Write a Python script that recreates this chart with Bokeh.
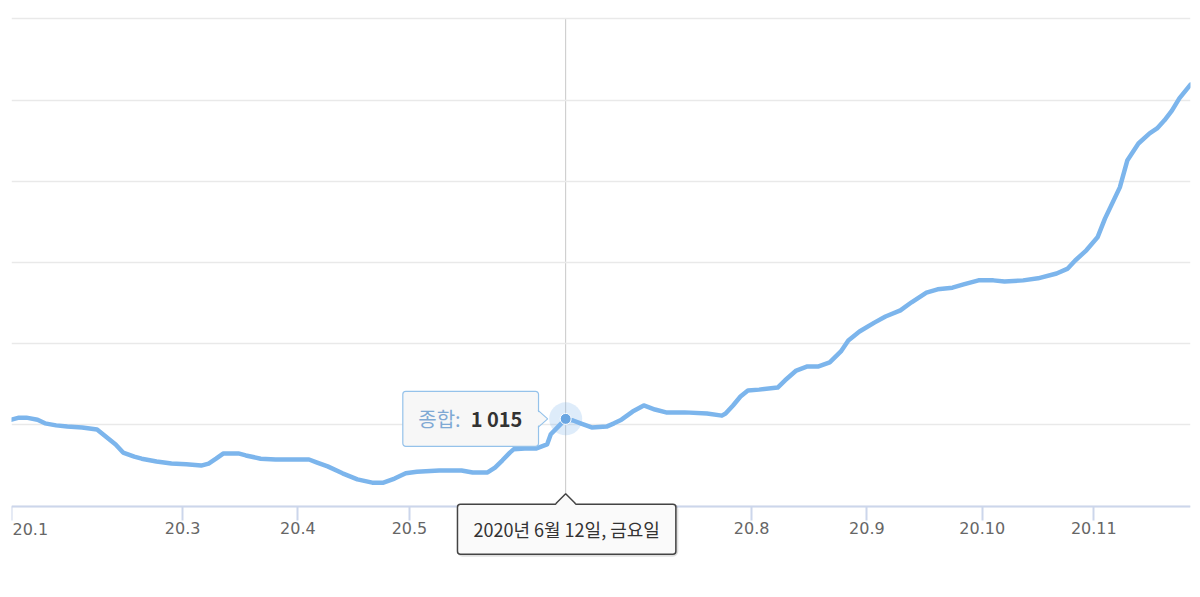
from datetime import datetime
from bokeh.plotting import figure
from bokeh.models import Range1d, FixedTicker, Label
from bokeh.embed import file_html
from bokeh.resources import INLINE

series_name = "종합"
dates = [
    "2020-01-15", "2020-01-17", "2020-01-19", "2020-01-22", "2020-01-24", "2020-01-27", "2020-01-30",
    "2020-02-03", "2020-02-07", "2020-02-09", "2020-02-12", "2020-02-14", "2020-02-17", "2020-02-19",
    "2020-02-23", "2020-02-27", "2020-03-02", "2020-03-06", "2020-03-08", "2020-03-10", "2020-03-12",
    "2020-03-16", "2020-03-18", "2020-03-22", "2020-03-26", "2020-03-30", "2020-04-04", "2020-04-06",
    "2020-04-09", "2020-04-13", "2020-04-17", "2020-04-21", "2020-04-24", "2020-04-27", "2020-04-30",
    "2020-05-03", "2020-05-09", "2020-05-15", "2020-05-18", "2020-05-22", "2020-05-24", "2020-05-26",
    "2020-05-28", "2020-05-29", "2020-06-01", "2020-06-04", "2020-06-07", "2020-06-08", "2020-06-10",
    "2020-06-12", "2020-06-14", "2020-06-16", "2020-06-19", "2020-06-23", "2020-06-25", "2020-06-27",
    "2020-06-30", "2020-07-03", "2020-07-06", "2020-07-09", "2020-07-14", "2020-07-20", "2020-07-24",
    "2020-07-25", "2020-07-27", "2020-07-29", "2020-07-31", "2020-08-03", "2020-08-08", "2020-08-10",
    "2020-08-13", "2020-08-16", "2020-08-19", "2020-08-22", "2020-08-25", "2020-08-27", "2020-08-30",
    "2020-09-03", "2020-09-06", "2020-09-10", "2020-09-13", "2020-09-17", "2020-09-20", "2020-09-24",
    "2020-09-27", "2020-10-01", "2020-10-05", "2020-10-08", "2020-10-13", "2020-10-17", "2020-10-22",
    "2020-10-25", "2020-10-27", "2020-10-30", "2020-11-02", "2020-11-04", "2020-11-08", "2020-11-10",
    "2020-11-13", "2020-11-16", "2020-11-18", "2020-11-20", "2020-11-22", "2020-11-24", "2020-11-27",
]
values = [
    1013, 1018, 1018, 1013, 1004, 999, 996,
    994, 989, 974, 952, 932, 922, 917,
    910, 905, 903, 900, 905, 917, 930,
    930, 925, 917, 915, 915, 915, 908,
    898, 881, 866, 858, 858, 868, 881,
    885, 888, 888, 883, 883, 895, 913,
    932, 940, 942, 942, 952, 977, 996,
    1015, 1011, 1004, 994, 996, 1004, 1013,
    1033, 1048, 1038, 1031, 1031, 1028, 1023,
    1028, 1048, 1070, 1085, 1087, 1092, 1110,
    1134, 1144, 1144, 1154, 1181, 1208, 1230,
    1252, 1267, 1282, 1302, 1326, 1334, 1338,
    1346, 1356, 1356, 1353, 1356, 1361, 1373,
    1385, 1405, 1430, 1462, 1508, 1585, 1651,
    1693, 1718, 1730, 1750, 1774, 1804, 1838,
]
tick_dates = ["2020-01-15", "2020-03-01", "2020-04-01", "2020-05-01", "2020-06-01",
              "2020-07-01", "2020-08-01", "2020-09-01", "2020-10-02", "2020-11-01"]
tick_labels = ["20.1", "20.3", "20.4", "20.5", "20.6", "20.7", "20.8", "20.9", "20.10", "20.11"]
y_ticks = [800, 1000, 1200, 1400, 1600, 1800, 2000]
highlight_date = "2020-06-12"
weekday_names = ["월요일", "화요일", "수요일", "목요일", "금요일", "토요일", "일요일"]

EPOCH = datetime(1970, 1, 1)


def to_ms(d):
    return (datetime.fromisoformat(d) - EPOCH).total_seconds() * 1000.0


xs = [to_ms(d) for d in dates]
tx = [to_ms(d) for d in tick_dates]

# layout: the plot frame spans the full height so that tooltips below the axis are not clipped
W, H = 1200, 597
BL, BR = 11, 10
FW = W - BL - BR
AXIS_Y_PX, TOP_Y_PX = 505.7, 18.3          # screen rows of the lowest and highest grid lines
PY = (y_ticks[-1] - y_ticks[0]) / (AXIS_Y_PX - TOP_Y_PX)
y_lo = y_ticks[0] - (H - AXIS_Y_PX) * PY
y_hi = y_ticks[-1] + TOP_Y_PX * PY
PX = (xs[-1] - xs[0]) / FW

p = figure(width=W, height=H, x_axis_type="datetime", y_axis_location=None,
           x_range=Range1d(xs[0], xs[-1]), y_range=Range1d(y_lo, y_hi),
           output_backend="svg", toolbar_location=None,
           min_border_left=BL, min_border_right=BR, min_border_top=0, min_border_bottom=0)
p.outline_line_color = None
p.background_fill_color = "white"
p.border_fill_color = "white"
p.xgrid.visible = False
p.ygrid.ticker = FixedTicker(ticks=y_ticks)
p.ygrid.grid_line_color = "#e9e9e9"
p.ygrid.grid_line_width = 1.6

xa = p.xaxis[0]
xa.fixed_location = y_ticks[0]
xa.ticker = FixedTicker(ticks=tx)
overrides = {t: lab for t, lab in zip(tx, tick_labels)}
overrides[tx[0]] = ""
xa.major_label_overrides = overrides
xa.axis_line_color = "#ccd6eb"
xa.axis_line_width = 2
xa.major_tick_line_color = "#ccd6eb"
xa.major_tick_line_width = 2
xa.major_tick_in = 0
xa.major_tick_out = 14
xa.minor_tick_line_color = None
xa.major_label_text_font = "DejaVu Sans"
xa.major_label_text_font_size = "16px"
xa.major_label_text_color = "#666666"
xa.major_label_standoff = 2

# first label is left-aligned at the axis start
p.add_layout(Label(x=tx[0], y=y_ticks[0], x_offset=1, y_offset=-23, text=tick_labels[0],
                   text_align="left", text_baseline="alphabetic", text_font="DejaVu Sans",
                   text_font_size="16px", text_color="#666666"))

hi = dates.index(highlight_date)
hx, hy = xs[hi], values[hi]

# crosshair (behind the series)
p.line([hx, hx], [y_ticks[-1], y_ticks[0]], line_color="#c8c8c8", line_width=1, level="underlay")

# series line
p.line(xs, values, line_color="#7cb5ec", line_width=4.5, line_join="round", line_cap="round")

# hovered point
p.scatter([hx], [hy], size=33, fill_color="#7cb5ec", fill_alpha=0.25, line_color=None)
p.scatter([hx], [hy], size=11, fill_color="#6aa6e2", line_color="white", line_width=1)

# value tooltip
value_text = f"{hy:,}".replace(",", " ")
TT_FONT = "Noto Sans CJK KR"
p.add_layout(Label(x=hx, y=hy, x_offset=-95, y_offset=0, text=f"{series_name}: {value_text}",
                   text_align="center", text_baseline="middle", text_font=TT_FONT,
                   text_font_size="20px", text_color="#f7f7f7",
                   background_fill_color="#f7f7f7", background_fill_alpha=1.0,
                   border_line_color="#95c2ea", border_line_width=1.2, padding=(20, 13), border_radius=3))
p.add_layout(Label(x=hx, y=hy, x_offset=-105, y_offset=0, text=f"{series_name}:",
                   text_align="right", text_baseline="middle", text_font=TT_FONT,
                   text_font_size="20px", text_color="#7fa9d4"))
p.add_layout(Label(x=hx, y=hy, x_offset=-95, y_offset=0, text=value_text,
                   text_align="left", text_baseline="middle", text_font=TT_FONT,
                   text_font_size="20px", text_font_style="bold", text_color="#333333"))
vy = [hy + 8.5 * PY, hy, hy - 8.5 * PY]
p.patch([hx - 29.5 * PX, hx - 18 * PX, hx - 29.5 * PX], vy, fill_color="#f7f7f7", line_color=None, level="overlay")
p.line([hx - 27.6 * PX, hx - 18 * PX, hx - 27.6 * PX], vy, line_color="#95c2ea", line_width=1.2, level="overlay")

# date tooltip under the axis
d = datetime.fromisoformat(highlight_date)
date_text = f"{d.year}년 {d.month}월 {d.day}일, {weekday_names[d.weekday()]}"
p.add_layout(Label(x=hx, y=y_ticks[0], x_offset=2, y_offset=-24, text=date_text,
                   text_align="center", text_baseline="middle", text_font=TT_FONT,
                   text_font_size="18px", text_color="#fafafa",
                   background_fill_color=None, border_line_color="#000000", border_line_alpha=0.12,
                   border_line_width=3, padding=(16, 12), border_radius=4))
p.add_layout(Label(x=hx, y=y_ticks[0], x_offset=1, y_offset=-23, text=date_text,
                   text_align="center", text_baseline="middle", text_font=TT_FONT,
                   text_font_size="18px", text_color="#333333",
                   background_fill_color="#fafafa", border_line_color="#444444",
                   border_line_width=1.5, padding=(16, 12), border_radius=3))
p.patch([hx - 10 * PX, hx, hx + 10 * PX],
        [y_ticks[0] + 1.2 * PY, y_ticks[0] + 12.4 * PY, y_ticks[0] + 1.2 * PY],
        fill_color="#fafafa", line_color=None, level="overlay")
p.line([hx - 10 * PX, hx, hx + 10 * PX],
       [y_ticks[0] + 2.4 * PY, y_ticks[0] + 12.4 * PY, y_ticks[0] + 2.4 * PY],
       line_color="#444444", line_width=1.5, level="overlay")

open("out.html", "w").write(file_html(p, INLINE))
